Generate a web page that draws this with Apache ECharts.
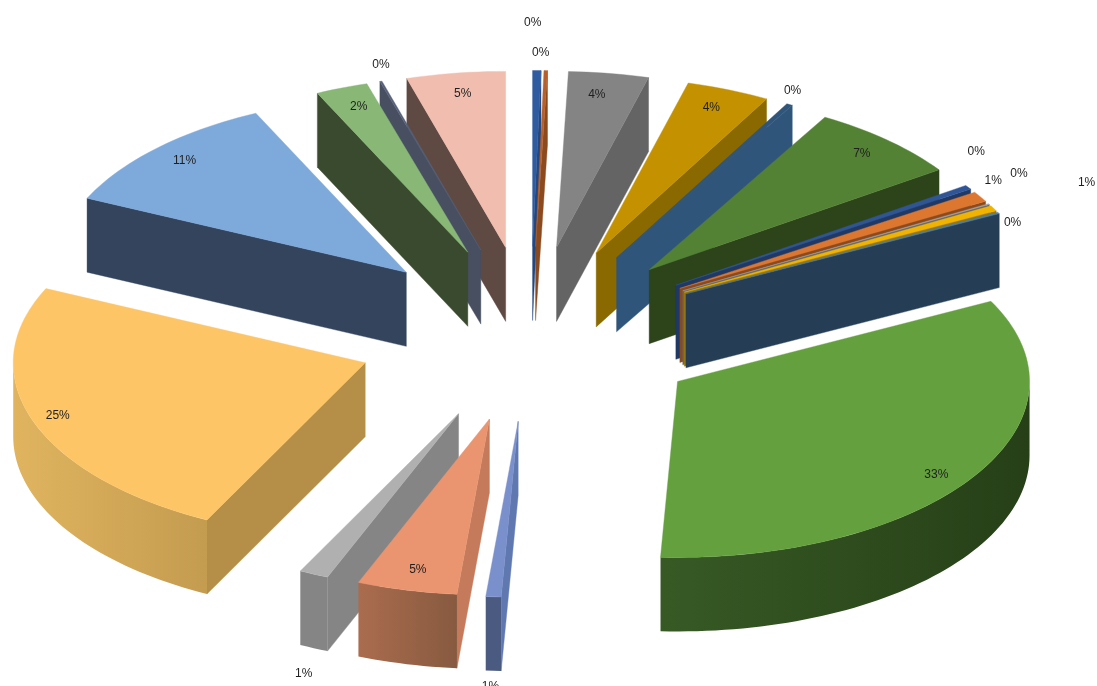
<!DOCTYPE html>
<html>
<head>
<meta charset="utf-8">
<style>html,body{margin:0;padding:0;background:#fff;overflow:hidden}#c{width:1097px;height:686px}</style>
<script src="https://cdn.jsdelivr.net/npm/echarts@6/dist/echarts.min.js"></script>
</head>
<body>
<div id="c"></div>
<script>
// Values, clockwise from 12 o'clock (percent shares).
const values = [0.38,0.16,3.67,3.83,0.28,7.08,0.40,0.95,0.08,0.50,0.14,33.30,0.70,4.60,1.35,24.50,11.05,2.40,0.10,4.53];
const categories = ['S1','S2','S3','S4','S5','S6','S7','S8','S9','S10','S11','S12','S13','S14','S15','S16','S17','S18','S19','S20'];

// Styles: top surface, side face, outer wall (left and right stops).
const topColors  = ['#2f5ba0','#b8602a','#848484','#c49200','#2f567a','#548235','#2f5597','#dd7730','#a5a5a5','#f0b400','#4d7ea8','#64a03e','#7a90cc','#ea9470','#b0b0b0','#fdc566','#7eaadb','#88b776','#566078','#f1bdae'];
const faceColors = ['#24477e','#8a4a1e','#646464','#8a6900','#2f567a','#2d4319','#1f3864','#8a4a1e','#666666','#9c7800','#263e55','#263f17','#6078b0','#c47a5b','#858585','#b58f48','#33445c','#3a4a2e','#474f60','#5f4a43'];
const wallLeft   = ['#24477e','#8a4a1e','#646464','#8a6900','#2f567a','#2d4319','#1f3864','#8a4a1e','#666666','#9c7800','#263e55','#375a25','#4a5a80','#ab6c4e','#858585','#e0b45f','#33445c','#3a4a2e','#474f60','#5f4a43'];
const wallRight  = ['#24477e','#8a4a1e','#646464','#8a6900','#2f567a','#2d4319','#1f3864','#8a4a1e','#666666','#9c7800','#263e55','#263f17','#4a5a80','#875a40','#858585','#c49c50','#33445c','#3a4a2e','#474f60','#5f4a43'];
// Label nudges from each slice's outer-arc midpoint.
const labelNudge = [[-2,-46],[-3,-16],[-10,23],[-15,20],[5,-12],[-24,15],[10,-34],[15,-14],[32,-28],[95,-24],[16,12],[-35,0],[-1,92],[13,-18],[-8,101],[27,-3],[30,14],[19,21],[2,-15],[9,23]];

// Projection of the exploded disk.
const CX = 530.5, CY = 334, R = 352, KY = 0.5, EXPLODE = 175, DEPTH = 74, LABEL_DX = -2, LABEL_DY = -2;

const total = values.reduce((a,b)=>a+b,0);
const rad = d => d*Math.PI/180;
const slices = [];
let acc = 0;
values.forEach((v,i)=>{
  const a0 = acc/total*360; acc += v; const a1 = acc/total*360;
  const m = (a0+a1)/2;
  slices.push({i,a0,a1,m,
    tx: CX+EXPLODE*Math.sin(rad(m)),
    ty: CY-KY*EXPLODE*Math.cos(rad(m))});
});
const order = slices.slice().sort((a,b)=>a.ty-b.ty).map(s=>s.i);
const rim = (s,a) => [s.tx+R*Math.sin(rad(a)), s.ty-KY*R*Math.cos(rad(a))];
function arc(s,a,b){
  const n = Math.max(2,Math.ceil((b-a)/1.5)), pts=[];
  for(let j=0;j<=n;j++) pts.push(rim(s,a+(b-a)*j/n));
  return pts;
}
const down = p => [p[0],p[1]+DEPTH];

function renderItem(params, api){
  const s = slices[api.value(0)], i = s.i, ch = [];
  const tip = [s.tx,s.ty];
  const face = a => {
    const p = rim(s,a);
    ch.push({type:'polygon',shape:{points:[tip,p,down(p),down(tip)]},style:{fill:faceColors[i],stroke:faceColors[i],lineWidth:0.4}});
  };
  if(Math.sin(rad(s.a0))<0) face(s.a0);
  if(Math.sin(rad(s.a1))>0) face(s.a1);
  const wa = Math.max(s.a0,90), wb = Math.min(s.a1,270);
  if(wb>wa){
    const top = arc(s,wa,wb), bot = top.map(down).reverse();
    const xs = top.map(p=>p[0]);
    const fill = new echarts.graphic.LinearGradient(Math.min(...xs),0,Math.max(...xs),0,[
      {offset:0,color:wallLeft[i]},{offset:1,color:wallRight[i]}],true);
    ch.push({type:'polygon',shape:{points:top.concat(bot)},style:{fill}});
  }
  const c = topColors[i];
  ch.push({type:'polygon',shape:{points:[tip].concat(arc(s,s.a0,s.a1))},style:{fill:c,stroke:c,lineWidth:0.4}});
  const a = rim({tx:CX,ty:CY},s.m), ex = (R+EXPLODE)/R;
  const lx = CX+(a[0]-CX)*ex+labelNudge[i][0]+LABEL_DX, ly = CY+(a[1]-CY)*ex+labelNudge[i][1]+LABEL_DY;
  ch.push({type:'text',z2:100,style:{x:lx,y:ly,text:Math.round(values[i])+'%',fill:'#1f1f1f',
    font:'12px "Liberation Sans", Arial, sans-serif',textAlign:'center',textVerticalAlign:'middle'}});
  return {type:'group',children:ch};
}

const chart = echarts.init(document.getElementById('c'),null,{renderer:'canvas',width:1097,height:686});
chart.setOption({
  animation:false,
  backgroundColor:'#ffffff',
  series:[{type:'custom',coordinateSystem:'none',silent:true,clip:false,renderItem,
    data:order.map(i=>({name:categories[i],value:[i,values[i]]}))}]
});
</script>
</body>
</html>
